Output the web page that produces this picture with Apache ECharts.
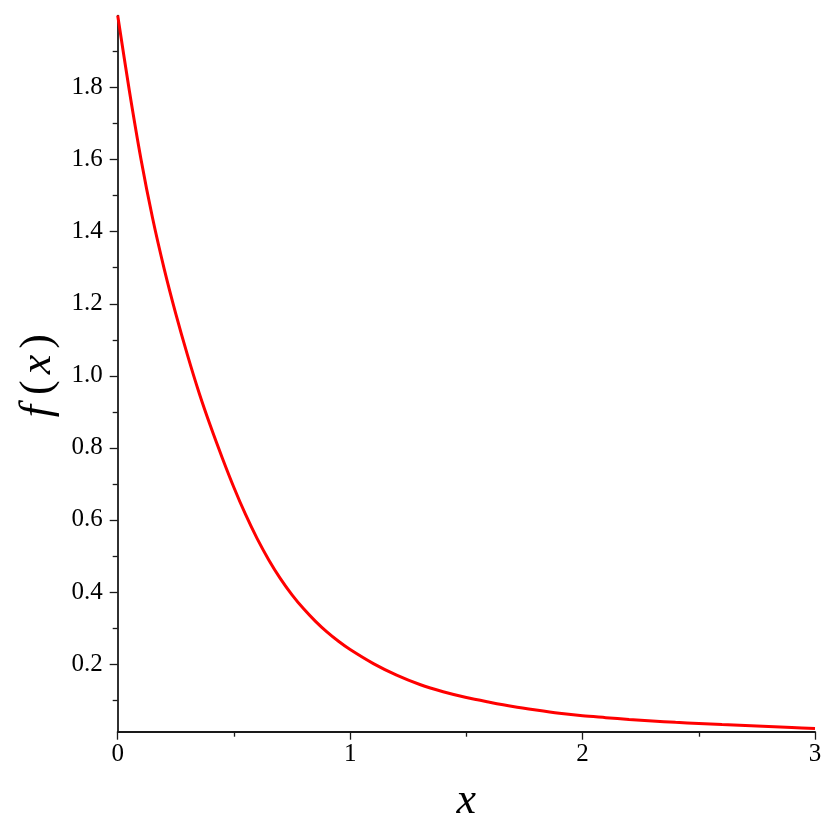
<!DOCTYPE html>
<html>
<head>
<meta charset="utf-8">
<script src="https://cdn.jsdelivr.net/npm/echarts@6/dist/echarts.min.js"></script>
<style>
html,body{margin:0;padding:0;background:#fff;}
#chart{width:830px;height:830px;}
</style>
</head>
<body>
<div id="chart"></div>
<script>
// Curve readings (x, f(x))
var xValues = [0, 0.05, 0.1, 0.15, 0.2, 0.25, 0.3, 0.35, 0.4, 0.45, 0.5, 0.55, 0.6, 0.65, 0.7, 0.75, 0.8, 0.85, 0.9, 0.95, 1.0, 1.1, 1.2, 1.3, 1.4, 1.5, 1.6, 1.7, 1.8, 1.9, 2.0, 2.1, 2.2, 2.3, 2.4, 2.5, 2.6, 2.7, 2.8, 2.9, 3.0];
var yValues = [2.0, 1.792, 1.602, 1.438, 1.297, 1.172, 1.058, 0.953, 0.859, 0.772, 0.690, 0.615, 0.548, 0.489, 0.437, 0.392, 0.353, 0.319, 0.289, 0.263, 0.240, 0.201, 0.169, 0.143, 0.123, 0.107, 0.094, 0.082, 0.072, 0.063, 0.056, 0.051, 0.046, 0.042, 0.038, 0.035, 0.032, 0.0293, 0.0266, 0.0238, 0.021];

// Axis ticks
var xMajorTicks = [0, 1, 2, 3];
var yMajorTicks = [0.2, 0.4, 0.6, 0.8, 1.0, 1.2, 1.4, 1.6, 1.8];
var yMinorTicks = [0.1, 0.3, 0.5, 0.7, 0.9, 1.1, 1.3, 1.5, 1.7, 1.9];
var xRange = [0, 3];
var yRange = [0.012, 2.0];

var points = xValues.map(function (x, i) { return [x, yValues[i]]; });

var chart = echarts.init(document.getElementById('chart'), null, {renderer: 'canvas'});
var serif = '"Liberation Serif", "Times New Roman", serif';
var axisColor = '#1a1a1a';

var option = {
  backgroundColor: '#ffffff',
  animation: false,
  grid: {left: 117.7, right: 15, top: 15.6, bottom: 98.3, containLabel: false, outerBoundsMode: 'none'},
  xAxis: {
    type: 'value',
    min: xRange[0], max: xRange[1], interval: 1,
    name: 'x',
    nameLocation: 'middle',
    nameGap: 48,
    nameTextStyle: {fontFamily: serif, fontStyle: 'italic', fontSize: 44, color: '#000'},
    axisLine: {show: true, onZero: false, lineStyle: {color: axisColor, width: 1.8}},
    axisTick: {show: true, length: 8, lineStyle: {color: axisColor, width: 1.3}, customValues: xMajorTicks},
    minorTick: {show: true, splitNumber: 2, length: 5, lineStyle: {color: axisColor, width: 1.3}},
    axisLabel: {show: true, margin: 10, fontFamily: serif, fontSize: 25, color: '#000', customValues: xMajorTicks,
      formatter: function (v) { return String(Math.round(v)); }},
    splitLine: {show: false},
    minorSplitLine: {show: false}
  },
  yAxis: [{
    type: 'value',
    min: yRange[0], max: yRange[1],
    position: 'left',
    name: '{f|f}{p|(}{x|x}{p|)}',
    nameLocation: 'middle',
    nameGap: 52,
    nameRotate: 90,
    nameTextStyle: {
      color: '#000',
      rich: {
        f: {fontFamily: serif, fontStyle: 'italic', fontSize: 44, color: '#000', padding: [0, 6, 0, 0]},
        p: {fontFamily: serif, fontSize: 44, color: '#000', padding: [0, 4, 0, 4]},
        x: {fontFamily: serif, fontStyle: 'italic', fontSize: 44, color: '#000', padding: [0, 2, 0, 2]}
      }
    },
    axisLine: {show: true, onZero: false, lineStyle: {color: axisColor, width: 1.8}},
    axisTick: {show: true, length: 8, lineStyle: {color: axisColor, width: 1.3}, customValues: yMajorTicks},
    axisLabel: {show: true, margin: 15, fontFamily: serif, fontSize: 25, color: '#000', customValues: yMajorTicks,
      formatter: function (v) { return v.toFixed(1); }},
    splitLine: {show: false}
  }, {
    type: 'value',
    min: yRange[0], max: yRange[1],
    position: 'left',
    offset: 0,
    axisLine: {show: false},
    axisTick: {show: true, length: 5, lineStyle: {color: axisColor, width: 1.3}, customValues: yMinorTicks},
    axisLabel: {show: false},
    splitLine: {show: false}
  }],
  series: [{
    type: 'line',
    yAxisIndex: 0,
    data: points,
    showSymbol: false,
    smooth: 0.3,
    clip: false,
    lineStyle: {color: '#ff0000', width: 3},
    silent: true
  }]
};
chart.setOption(option);
</script>
</body>
</html>
